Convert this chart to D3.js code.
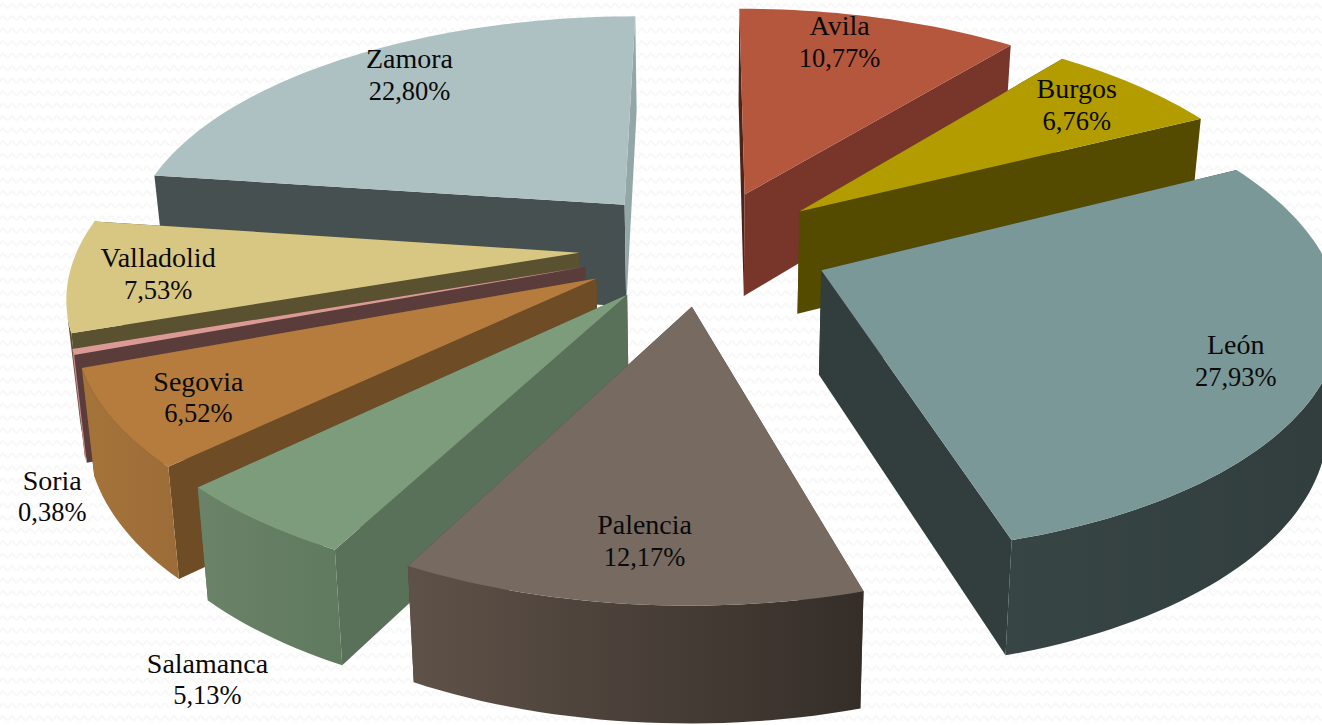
<!DOCTYPE html>
<html>
<head>
<meta charset="utf-8">
<script src="https://cdn.jsdelivr.net/npm/d3@7/dist/d3.min.js"></script>
<style>
html,body{margin:0;padding:0;background:#fff;overflow:hidden}
svg{display:block}
text{font-family:"Liberation Serif",serif;font-size:28px;fill:#0a0a0a;text-anchor:middle;dominant-baseline:central}
text.pct{font-size:26.5px}
</style>
</head>
<body>
<svg id="chart" width="1322" height="725"></svg>
<script>
const categories = ["Avila","Burgos","León","Palencia","Salamanca","Segovia","Soria","Valladolid","Zamora"];
const values = [10.77,6.76,27.93,12.17,5.13,6.52,0.38,7.53,22.80];
const valueLabels = ["10,77%","6,76%","27,93%","12,17%","5,13%","6,52%","0,38%","7,53%","22,80%"];
const topColors = ["#B5573D","#B39C00","#7B9899","#776A60","#7D9C7B","#B57C3E","#DB9A94","#D7C782","#ADC0C2"];
const startWallColors = ["#4F2418","#544A00","#323E3E","#4C4038","#5A7159","#6E4C26","#5A3D3B","#595130","#465050"];
const endWallColors = ["#78362A","#544A00","#323E3E","#4C4038","#5A7159","#6E4C26","#5A3D3B","#595130","#93A7A8"];
const arcStartColors = ["#78362A","#544A00","#323E3E","#352E28","#5F7A5E","#9C6C38","#C9868A","#595130","#465050"];
const arcEndColors = ["#78362A","#544A00","#384545","#5E5148","#6A8268","#A4733A","#C9868A","#595130","#465050"];
const drawOrder = ["Zamora","Avila","Burgos","Valladolid","Soria","Segovia","Salamanca","León","Palencia"];
const labelAngles = [16.1,50.1,115.4,185.3,206.3,237.0,226.3,263.8,322.6];
const labelRadii = [0.832,0.82,0.835,0.815,1.39,0.84,1.213,0.827,0.829];

// Projection of the pie plane: a perspective view of the exploded disc.
const view = {cx:704.5, cy:247, a:501, b:230.5, p:0.158, explode:0.25, kx:0.98, ky:1.04, depth:103.5};
const rad = Math.PI/180;
function projectTop(X,Z){
  const w = 1 + view.p*Z;
  return [view.cx + view.a*X/w, view.cy - view.b*Z/w];
}
function projectBottom(X,Z){
  const [x,y] = projectTop(X,Z);
  return [view.cx + (x-view.cx)*view.kx, view.cy + (y-view.cy)*view.ky + view.depth];
}

const svg = d3.select("#chart");

// Background wave texture
const defs = svg.append("defs");
const pat = defs.append("pattern").attr("id","wave").attr("patternUnits","userSpaceOnUse")
  .attr("width",9).attr("height",12.5);
pat.append("path").attr("d","M0,7 Q2.25,1.5 4.5,5 T9,7").attr("fill","none").attr("stroke","#f7f7f7").attr("stroke-width",2);
svg.append("rect").attr("width",1322).attr("height",725).attr("fill","#fff");
svg.append("rect").attr("width",1322).attr("height",725).attr("fill","url(#wave)");

const pie = d3.pie().sort(null).startAngle(0).endAngle(2*Math.PI);
const arcs = pie(values);
const line = d3.line();

function sliceGeometry(d){
  const mid = (d.startAngle+d.endAngle)/2;
  const ox = Math.sin(mid)*view.explode, oz = Math.cos(mid)*view.explode;
  const n = Math.max(2, Math.ceil((d.endAngle-d.startAngle)/(rad*1.5)));
  const ring = d3.range(n+1).map(i=>{
    const t = d.startAngle + (d.endAngle-d.startAngle)*i/n;
    return [ox+Math.sin(t), oz+Math.cos(t)];
  });
  return {ox,oz,ring};
}

const gSlices = svg.append("g");
drawOrder.map(name=>categories.indexOf(name)).forEach(i=>{
  const d = arcs[i];
  const {ox,oz,ring} = sliceGeometry(d);
  const g = gSlices.append("g").attr("class","slice");
  const first = ring[0], last = ring[ring.length-1];
  const wall = p => [projectTop(ox,oz),projectTop(...p),projectBottom(...p),projectBottom(ox,oz)];
  g.append("path").attr("d",line(wall(first))+"Z").attr("fill",startWallColors[i]);
  g.append("path").attr("d",line(wall(last))+"Z").attr("fill",endWallColors[i]);

  // outer wall: only the part of the rim that faces the viewer, shaded along the arc
  const front = ring.filter((r,k)=>{
    const a = ring[Math.max(k-1,0)], b = ring[Math.min(k+1,ring.length-1)];
    return d3.polygonArea([projectTop(...a),projectTop(...b),projectBottom(...b),projectBottom(...a)]) > 0;
  });
  if(front.length>1){
    const id = "rim"+i;
    const x0 = projectBottom(...front[0])[0], x1 = projectBottom(...front[front.length-1])[0];
    const grad = defs.append("linearGradient").attr("id",id).attr("gradientUnits","userSpaceOnUse")
      .attr("x1",x0).attr("y1",0).attr("x2",x1).attr("y2",0);
    grad.append("stop").attr("offset",0).attr("stop-color",arcStartColors[i]);
    grad.append("stop").attr("offset",1).attr("stop-color",arcEndColors[i]);
    const rim = front.map(r=>projectTop(...r)).concat(front.slice().reverse().map(r=>projectBottom(...r)));
    g.append("path").attr("d",line(rim)+"Z").attr("fill",`url(#${id})`);
  }
  // top face
  const topPts = [projectTop(ox,oz)].concat(ring.map(r=>projectTop(...r)));
  g.append("path").attr("d",line(topPts)+"Z").attr("fill",topColors[i]);
});

// Labels
const gLabels = svg.append("g");
arcs.forEach((d,i)=>{
  const mid = (d.startAngle+d.endAngle)/2;
  const ox = Math.sin(mid)*view.explode, oz = Math.cos(mid)*view.explode;
  const t = labelAngles[i]*rad, r = labelRadii[i];
  const [x,y] = projectTop(ox+Math.sin(t)*r, oz+Math.cos(t)*r);
  gLabels.append("text").attr("x",x).attr("y",y-16).text(categories[i]);
  gLabels.append("text").attr("class","pct").attr("x",x).attr("y",y+16).text(valueLabels[i]);
});
</script>
</body>
</html>
